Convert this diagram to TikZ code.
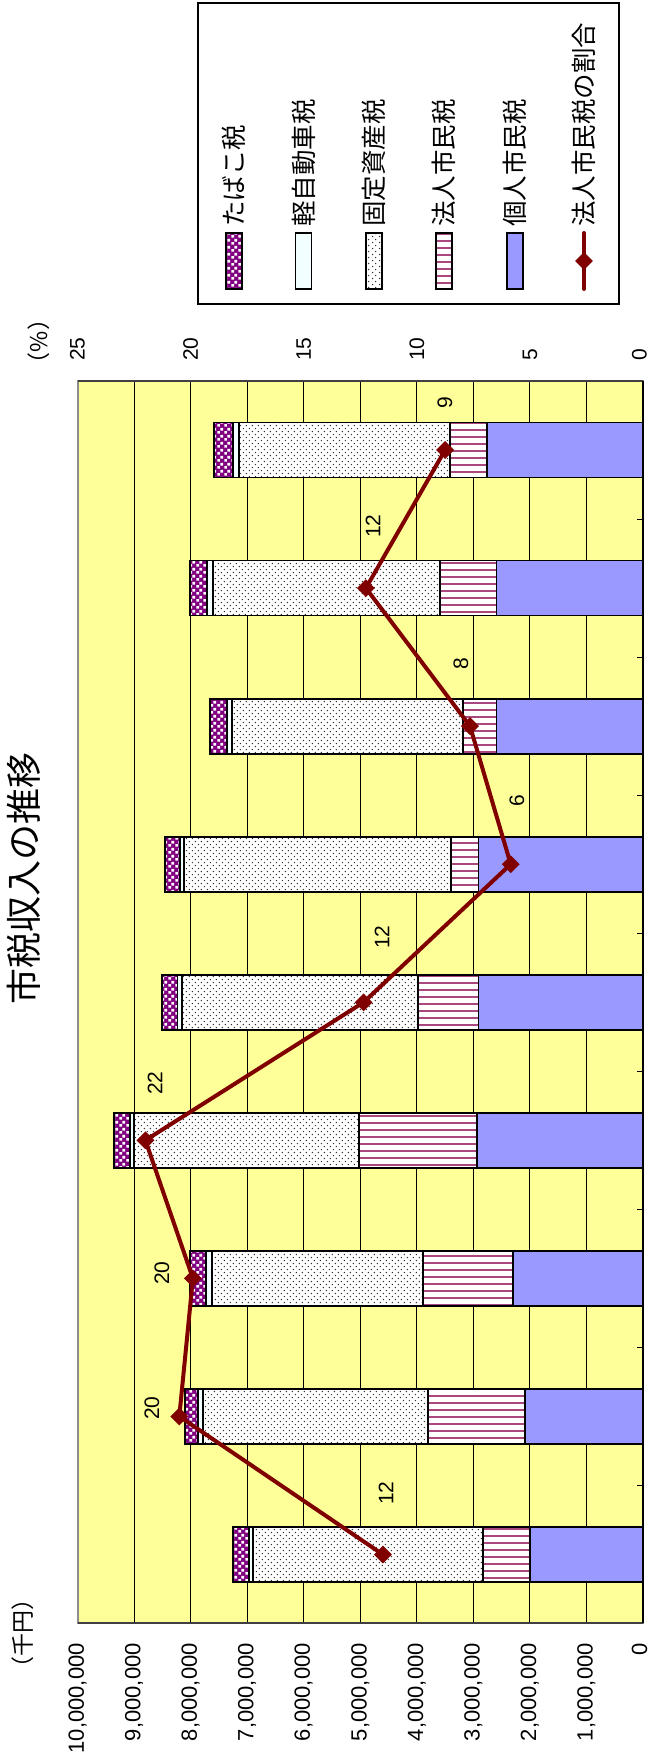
\documentclass[tikz,border=0pt]{standalone}
\usepackage{fontspec}
\setmainfont{Liberation Sans}
\newfontfamily\jp{Noto Sans CJK JP}
\usetikzlibrary{patterns,shapes.geometric}
\pgfdeclarepatternformonly{hstripes}{\pgfqpoint{-1pt}{-1pt}}{\pgfqpoint{11pt}{8pt}}{\pgfqpoint{10pt}{7pt}}{%
  \pgfsetlinewidth{2pt}%
  \pgfpathmoveto{\pgfqpoint{-1pt}{3.5pt}}\pgfpathlineto{\pgfqpoint{11pt}{3.5pt}}\pgfusepath{stroke}}
\pgfdeclarepatternformonly{sdots}{\pgfqpoint{0pt}{0pt}}{\pgfqpoint{6.4pt}{6.4pt}}{\pgfqpoint{6.4pt}{6.4pt}}{%
  \pgfpathcircle{\pgfqpoint{1.6pt}{1.6pt}}{0.8pt}%
  \pgfpathcircle{\pgfqpoint{4.8pt}{4.8pt}}{0.8pt}%
  \pgfusepath{fill}}
\pgfdeclarepatternformonly{chk}{\pgfqpoint{0pt}{0pt}}{\pgfqpoint{7pt}{7pt}}{\pgfqpoint{7pt}{7pt}}{%
  \pgfpathrectangle{\pgfqpoint{0.3pt}{0.3pt}}{\pgfqpoint{3pt}{3pt}}%
  \pgfpathrectangle{\pgfqpoint{3.8pt}{3.8pt}}{\pgfqpoint{3pt}{3pt}}%
  \pgfusepath{fill}}
\definecolor{plotbg}{HTML}{FFFF99}
\definecolor{kojin}{HTML}{9999FF}
\definecolor{stripe}{HTML}{A8487E}
\definecolor{tabako}{HTML}{800080}
\definecolor{linered}{HTML}{800000}
\definecolor{keiji}{HTML}{F2FFFF}
\begin{document}
\begin{tikzpicture}[x=1pt,y=-1pt,
  seg/.style={draw=black, line width=1.8pt},
  kojinfill/.style={fill=kojin},
  houjinfill/.style={preaction={fill=white}, pattern=hstripes, pattern color=stripe},
  koteifill/.style={preaction={fill=white}, pattern=sdots, pattern color=black!80},
  keifill/.style={fill=keiji},
  tabakofill/.style={preaction={fill=tabako}, pattern=chk, pattern color=white},
  grid/.style={draw=black, line width=0.9pt},
  mk/.style={diamond, fill=linered, inner sep=0pt, minimum size=18pt},
  dlabel/.style={rotate=90, font=\fontsize{21}{21}\selectfont, inner sep=0pt},
  ticklab/.style={rotate=90, font=\fontsize{22}{22}\selectfont, inner sep=0pt},
  leglab/.style={rotate=90, anchor=west, font=\jp\fontsize{25.5}{25.5}\selectfont, inner sep=0pt},
  unitlab/.style={rotate=90, font=\jp\fontsize{23}{23}\selectfont, inner sep=0pt},
  legkey/.style={draw=black, line width=1.8pt}
]
\useasboundingbox[fill=white] (0,0) rectangle (649,1764);
% plot area
\fill[plotbg] (77.5,381) rectangle (643,1623);
\foreach \k in {1,...,9}{
  \draw[grid] ({643-56.55*\k},381) -- ({643-56.55*\k},1623);
}
\draw[draw=black!45, line width=2pt] (77.5,381) rectangle (643,1623);
\draw[draw=black!75, line width=1.6pt] (77.5,381) -- (643,381);
\draw[draw=black!75, line width=1.6pt] (77.5,1623) -- (643,1623);
\draw[black, line width=1.8pt] (643,381) -- (643,1623);
\foreach \j in {1,...,8}{
  \draw[black, line width=1pt] (637,{381+138.06*\j}) -- (643,{381+138.06*\j});
}
% bars
\foreach \i/\a/\b/\c/\d/\e in {1/2.00/2.83/6.90/6.97/7.25, 2/2.09/3.80/7.78/7.87/8.10, 3/2.30/3.89/7.62/7.73/8.01, 4/2.94/5.02/9.00/9.07/9.35, 5/2.91/3.98/8.15/8.23/8.51, 6/2.91/3.39/8.11/8.19/8.45, 7/2.59/3.19/7.27/7.35/7.65, 8/2.59/3.59/7.61/7.71/8.01, 9/2.76/3.41/7.14/7.25/7.59}{
  \pgfmathsetmacro\yt{1554.5-(\i-1)*138.06-27.5}
  \pgfmathsetmacro\yb{1554.5-(\i-1)*138.06+27.5}
  \pgfmathsetmacro\xa{643-56.55*\a}
  \pgfmathsetmacro\xb{643-56.55*\b}
  \pgfmathsetmacro\xc{643-56.55*\c}
  \pgfmathsetmacro\xd{643-56.55*\d}
  \pgfmathsetmacro\xe{643-56.55*\e}
  \path[seg,kojinfill] (643,\yt) rectangle (\xa,\yb);
  \path[seg,houjinfill] (\xa,\yt) rectangle (\xb,\yb);
  \path[seg,koteifill] (\xb,\yt) rectangle (\xc,\yb);
  \path[seg,keifill] (\xc,\yt) rectangle (\xd,\yb);
  \path[seg,tabakofill] (\xd,\yt) rectangle (\xe,\yb);
}
% ratio line
\coordinate (m1) at (382.9,1554.5);
\coordinate (m2) at (179.3,1416.4);
\coordinate (m3) at (192.9,1278.4);
\coordinate (m4) at (145.4,1140.3);
\coordinate (m5) at (363.6,1002.3);
\coordinate (m6) at (510.7,864.2);
\coordinate (m7) at (470.0,726.1);
\coordinate (m8) at (365.9,588.1);
\coordinate (m9) at (445.1,450.0);
\draw[linered, line width=4pt, line join=round] (m1) -- (m2) -- (m3) -- (m4) -- (m5) -- (m6) -- (m7) -- (m8) -- (m9);
\foreach \m in {m1,m2,m3,m4,m5,m6,m7,m8,m9}{ \node[mk] at (\m) {}; }
% data labels
\node[dlabel] (l1) at (386,1493) {12};
\node[dlabel] (l2) at (152,1408) {20};
\node[dlabel] (l3) at (162,1273) {20};
\node[dlabel] (l4) at (155,1083) {22};
\node[dlabel] (l5) at (382,937) {12};
\node[dlabel] (l6) at (517,801) {6};
\node[dlabel] (l7) at (461,664) {8};
\node[dlabel] (l8) at (373,526) {12};
\node[dlabel] (l9) at (445,403) {9};
% primary axis labels
\foreach \v/\t in {1/{1,000,000},2/{2,000,000},3/{3,000,000},4/{4,000,000},5/{5,000,000},6/{6,000,000},7/{7,000,000},8/{8,000,000},9/{9,000,000},10/{10,000,000}}{
  \node[ticklab, anchor=east] (p\v) at ({643-56.55*\v},1643) {\t};
}
\node[ticklab, anchor=east] (p0) at (639.5,1643) {0};
% secondary axis labels
\foreach \v in {5,10,15,20,25}{
  \node[ticklab, anchor=west, font=\fontsize{21}{21}\selectfont] (s\v) at ({643-22.62*\v},361) {\v};
}
\node[ticklab, anchor=west, font=\fontsize{21}{21}\selectfont] (s0) at (639.5,361) {0};
\node[unitlab] (pct) at (39,341.5) {（\%）};
\node[unitlab] (yen) at (23,1633) {（千円）};
% title
\node[rotate=90, font=\jp\fontsize{36}{36}\selectfont, inner sep=0pt] (title) at (24,878) {市税収入の推移};
% legend
\draw[black, line width=1.3pt, fill=white] (198,3) rectangle (619,304);
\path[legkey,tabakofill] (226,233) rectangle (242,289);
\path[legkey,keifill] (295.5,233) rectangle (311.5,289);
\path[legkey,koteifill] (366,233) rectangle (382,289);
\path[legkey,houjinfill] (436,233) rectangle (452,289);
\path[legkey,kojinfill] (507,233) rectangle (523,289);
\coordinate (la) at (584,233);
\coordinate (lb) at (584,289);
\draw[linered, line width=4pt, line cap=round] (la) -- (lb);
\node[mk] (lm) at (584,261) {};
\node[leglab] (t1) at (234,227) {たばこ税};
\node[leglab] (t2) at (303.5,227) {軽自動車税};
\node[leglab] (t3) at (374,227) {固定資産税};
\node[leglab] (t4) at (444,227) {法人市民税};
\node[leglab] (t5) at (515,227) {個人市民税};
\node[leglab] (t6) at (584,227) {法人市民税の割合};
\end{tikzpicture}
\end{document}
